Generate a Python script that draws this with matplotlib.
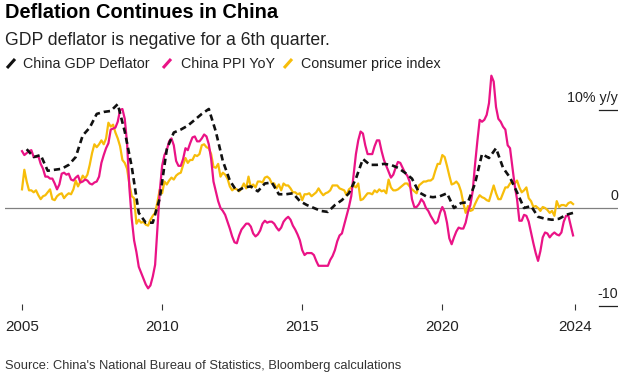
import matplotlib.pyplot as plt
from matplotlib import font_manager
from matplotlib.lines import Line2D
import numpy as np

plt.rcParams["font.family"] = ["Liberation Sans", "DejaVu Sans"]

# monthly YoY, Jan 2005 - Sep 2024
cpi = [
    1.9, 3.9, 2.7, 1.8, 1.8, 1.6, 1.8, 1.3, 0.9, 1.2, 1.3, 1.6,
    1.9, 0.9, 0.8, 1.2, 1.4, 1.5, 1.0, 1.3, 1.5, 1.4, 1.9, 2.8,
    2.2, 2.7, 3.3, 3.0, 3.4, 4.4, 5.6, 6.5, 6.2, 6.5, 6.9, 6.5,
    7.1, 8.7, 8.3, 8.5, 7.7, 7.1, 6.3, 4.9, 4.6, 4.0, 2.4, 1.2,
    1.0, -1.6, -1.2, -1.5, -1.4, -1.7, -1.8, -1.2, -0.8, -0.5, 0.6, 1.9,
    1.5, 2.7, 2.4, 2.8, 3.1, 2.9, 3.3, 3.5, 3.6, 4.4, 5.1, 4.6,
    4.9, 4.9, 5.4, 5.3, 5.5, 6.4, 6.5, 6.2, 6.1, 5.5, 4.2, 4.1,
    4.5, 3.2, 3.6, 3.4, 3.0, 2.2, 1.8, 2.0, 1.9, 1.7, 2.0, 2.5,
    2.0, 3.2, 2.1, 2.4, 2.1, 2.7, 2.7, 2.6, 3.1, 3.2, 3.0, 2.5,
    2.5, 2.0, 2.4, 1.8, 2.5, 2.3, 2.3, 2.0, 1.6, 1.6, 1.4, 1.5,
    0.8, 1.4, 1.4, 1.5, 1.2, 1.4, 1.6, 2.0, 1.6, 1.3, 1.5, 1.6,
    1.8, 2.3, 2.3, 2.3, 2.0, 1.9, 1.8, 1.3, 1.9, 2.1, 2.3, 2.1,
    2.5, 0.8, 0.9, 1.2, 1.5, 1.5, 1.4, 1.8, 1.6, 1.9, 1.7, 1.8,
    1.5, 2.9, 2.1, 1.8, 1.8, 1.9, 2.1, 2.3, 2.5, 2.5, 2.2, 1.9,
    1.7, 1.5, 2.3, 2.5, 2.7, 2.7, 2.8, 2.8, 3.0, 3.8, 4.5, 4.5,
    5.4, 5.2, 4.3, 3.3, 2.4, 2.5, 2.7, 2.4, 1.7, 0.5, -0.5, 0.2,
    -0.3, -0.2, 0.4, 0.9, 1.3, 1.1, 1.0, 0.8, 0.7, 1.5, 2.3, 1.5,
    0.9, 0.9, 1.5, 2.1, 2.1, 2.5, 2.7, 2.5, 2.8, 2.1, 1.6, 1.8,
    2.1, 1.0, 0.7, 0.1, 0.2, 0.0, -0.3, 0.1, 0.0, -0.2, -0.5, -0.3,
    -0.8, 0.7, 0.1, 0.3, 0.3, 0.2, 0.5, 0.6, 0.4,
]

ppi = [
    5.8, 5.4, 5.6, 5.8, 5.9, 5.2, 5.2, 5.3, 4.5, 4.0, 3.2, 3.2,
    3.0, 3.0, 2.5, 1.9, 2.4, 3.5, 3.6, 3.4, 3.5, 2.9, 2.8, 3.1,
    3.3, 2.6, 2.7, 2.9, 2.8, 2.5, 2.4, 2.6, 2.7, 3.2, 4.6, 5.4,
    6.1, 6.6, 8.0, 8.1, 8.2, 8.8, 10.0, 10.1, 9.1, 6.6, 2.0, -1.1,
    -3.3, -4.5, -6.0, -6.6, -7.2, -7.8, -8.2, -7.9, -7.0, -5.8, -2.1, 1.7,
    4.3, 5.4, 5.9, 6.8, 7.1, 6.4, 4.8, 4.3, 4.3, 5.0, 6.1, 5.9,
    6.6, 7.2, 7.3, 6.8, 6.8, 7.1, 7.5, 7.3, 6.5, 5.0, 2.7, 1.7,
    0.7, 0.0, -0.3, -0.7, -1.4, -2.1, -2.9, -3.5, -3.6, -2.8, -2.2, -1.9,
    -1.6, -1.6, -1.9, -2.6, -2.9, -2.7, -2.3, -1.6, -1.3, -1.5, -1.4, -1.4,
    -1.6, -2.0, -2.3, -2.0, -1.4, -1.1, -0.9, -1.2, -1.8, -2.2, -2.7, -3.3,
    -4.3, -4.8, -4.6, -4.6, -4.6, -4.8, -5.4, -5.9, -5.9, -5.9, -5.9, -5.9,
    -5.3, -4.9, -4.3, -3.4, -2.8, -2.6, -1.7, -0.8, 0.1, 1.2, 3.3, 5.5,
    6.9, 7.8, 7.6, 6.4, 5.5, 5.5, 5.5, 6.3, 6.9, 6.9, 5.8, 4.9,
    4.3, 3.7, 3.1, 3.4, 4.1, 4.7, 4.6, 4.1, 3.6, 3.3, 2.7, 0.9,
    0.1, 0.1, 0.4, 0.9, 0.6, 0.0, -0.3, -0.8, -1.2, -1.6, -1.4, -0.5,
    0.1, -0.4, -1.5, -3.1, -3.7, -3.0, -2.4, -2.0, -2.1, -2.1, -1.5, -0.4,
    0.3, 1.7, 4.4, 6.8, 9.0, 8.8, 9.0, 9.5, 10.7, 13.5, 12.9, 10.3,
    9.1, 8.8, 8.3, 8.0, 6.4, 6.1, 4.2, 2.3, 0.9, -1.3, -1.3, -0.7,
    -0.8, -1.4, -2.5, -3.6, -4.6, -5.4, -4.4, -3.0, -2.5, -2.6, -3.0, -2.7,
    -2.5, -2.7, -2.8, -2.5, -1.4, -0.8, -0.8, -1.8, -2.8,
]

# quarterly YoY, 2005Q1 - 2024Q3
deflator = [
    6.0, 5.2, 5.4, 3.8, 3.9, 4.0, 4.4, 5.2,
    7.4, 8.2, 9.6, 9.8, 9.9, 10.6, 7.8, 4.2,
    -0.5, -1.5, -1.5, 1.0, 6.0, 7.7, 8.0, 8.4,
    9.0, 9.6, 10.1, 7.8, 4.8, 2.8, 1.7, 2.1,
    2.2, 1.7, 2.5, 2.6, 1.4, 1.4, 1.5, 0.7,
    0.3, 0.0, -0.3, -0.4, 0.3, 0.8, 1.5, 3.0,
    5.0, 4.4, 4.4, 4.5, 4.4, 4.1, 3.6, 3.0,
    1.6, 1.2, 1.1, 1.2, 1.5, 0.0, 0.5, 0.6,
    2.5, 5.5, 5.1, 6.1, 4.1, 3.1, 1.6, 0.0,
    0.2, -0.9, -1.1, -1.2, -1.1, -0.7, -0.5,
]

start_year = 2005
tick_pos = [2005, 2010, 2015, 2020, 2024.75]
tick_labels = ["2005", "2010", "2015", "2020", "2024"]
right_ticks = [10, 0, -10]
right_labels = ["10% y/y", "0", "-10"]

series_names = ["China GDP Deflator", "China PPI YoY", "Consumer price index"]
BLACK = "#111111"
PINK = "#ea1386"
YELLOW = "#f7bd0a"

W, H = 623, 374


def fpos(x, y):
    # pixel position (origin top-left) -> figure fraction
    return x / W, 1 - y / H


# source line uses a narrow face when there is one
try:
    font_manager.findfont("Liberation Sans Narrow", fallback_to_default=False)
    source_font = dict(family="Liberation Sans Narrow", fontsize=11)
except ValueError:
    source_font = dict(family="Liberation Sans", fontsize=9.3)

x_month = start_year + np.arange(len(cpi)) / 12
x_quarter = start_year + (2 + 3 * np.arange(len(deflator))) / 12

fig = plt.figure(figsize=(W / 100, H / 100), dpi=100)
ax = fig.add_axes([5 / W, 1 - 310 / H, 613 / W, 240 / H])
ax.set_xlim(2004.393, 2026.27)
ax.set_ylim(-10.41, 14.08)
for s in ax.spines.values():
    s.set_visible(False)
ax.set_yticks([])

ax.axhline(0, color="#808080", lw=0.9, zorder=1)
ytrans = ax.get_yaxis_transform()
for val, lab in zip(right_ticks, right_labels):
    ax.text(1.0, val + 0.85, lab, transform=ytrans, ha="right", va="baseline",
            fontsize=10.3, color="#222222")
    if val != 0:
        ax.axhline(val, xmin=0.969, xmax=1.0, color="#222222", lw=0.9)

ax.plot(x_month, cpi, color=YELLOW, lw=1.6, zorder=2)
ax.plot(x_month, ppi, color=PINK, lw=1.6, zorder=3)
ax.plot(x_quarter, deflator, color=BLACK, lw=1.9, dashes=(2.4, 1.5), zorder=4)

ax.set_xticks(tick_pos)
ax.set_xticklabels(tick_labels)
ax.tick_params(axis="x", direction="in", length=4, width=0.8, color="#333333",
               pad=7, labelsize=10.9, labelcolor="#222222")

# titles
fig.text(*fpos(5, 18.5), "Deflation Continues in China", fontsize=14.4,
         weight="bold", va="baseline", color="#000000")
fig.text(*fpos(5, 45), "GDP deflator is negative for a 6th quarter.",
         fontsize=12.7, va="baseline", color="#222222")

# legend row
legend_icons = [(7, 15), (163, 171), (284, 292)]
legend_text_x = [23, 181, 301]
for (x0, x1), tx, name, col in zip(legend_icons, legend_text_x, series_names,
                                   [BLACK, PINK, YELLOW]):
    p0 = fpos(x0, 68)
    p1 = fpos(x1, 59)
    fig.add_artist(Line2D([p0[0], p1[0]], [p0[1], p1[1]], transform=fig.transFigure,
                          color=col, lw=2.2, solid_capstyle="butt"))
    fig.text(*fpos(tx, 68.3), name, fontsize=10.3, va="baseline", color="#222222")

fig.text(*fpos(5, 368.5), "Source: China's National Bureau of Statistics, Bloomberg calculations",
         va="baseline", color="#333333", **source_font)

fig.savefig("out.png", dpi=100)
